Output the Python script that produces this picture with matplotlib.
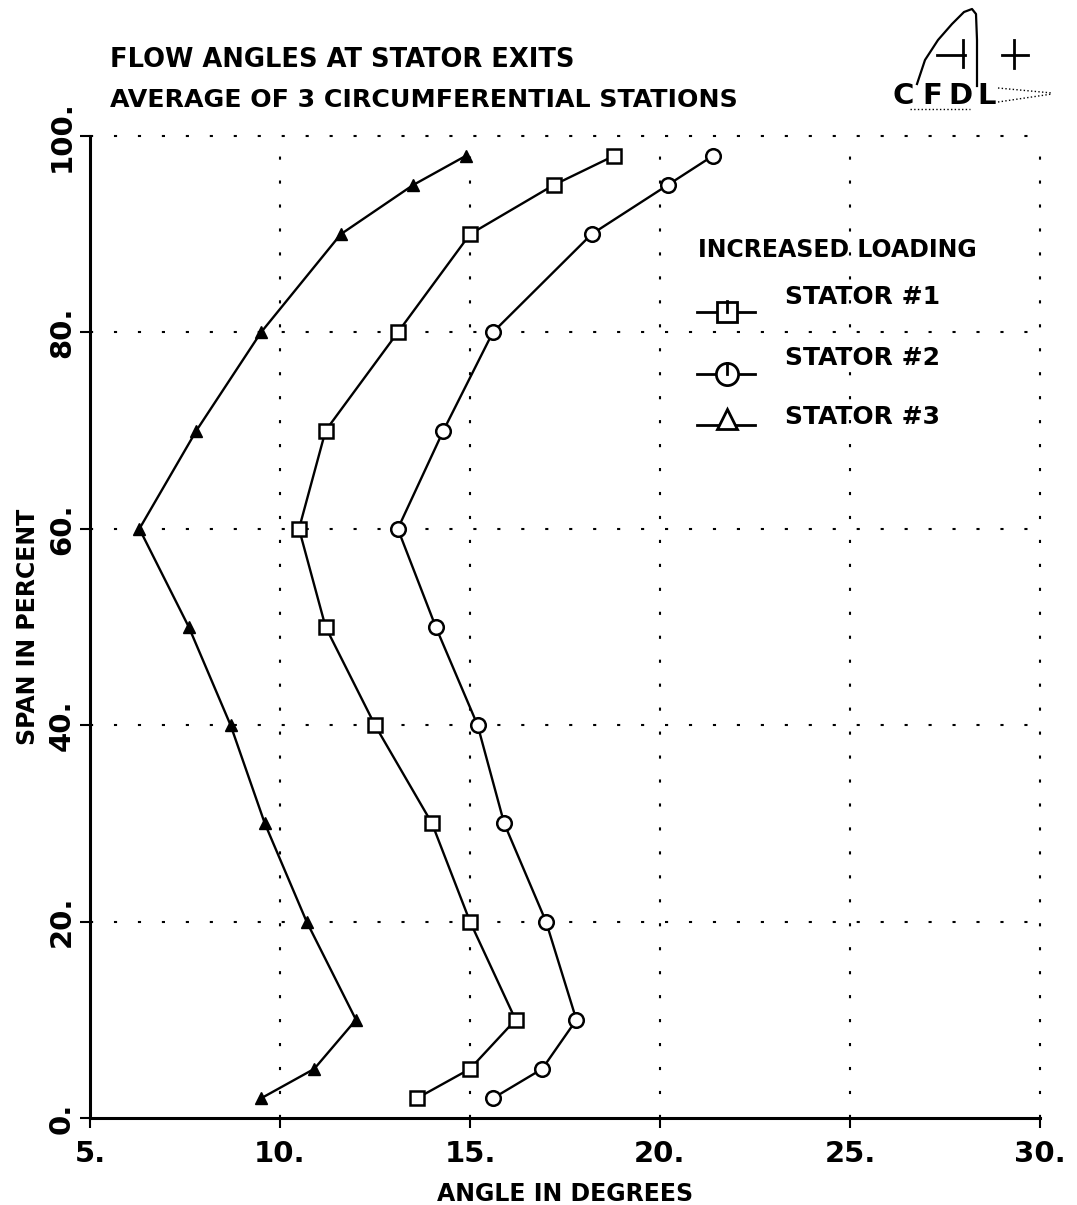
import matplotlib
matplotlib.use("Agg")
import matplotlib.pyplot as plt

plt.rcParams['font.family'] = ['DejaVu Sans']
plt.rcParams['font.weight'] = 'bold'
plt.rcParams['axes.labelweight'] = 'bold'

# span stations (percent) shared by all three stators
span = [2, 5, 10, 20, 30, 40, 50, 60, 70, 80, 90, 95, 98]

# exit flow angles in degrees
stator1 = [13.6, 15.0, 16.2, 15.0, 14.0, 12.5, 11.2, 10.5, 11.2, 13.1, 15.0, 17.2, 18.8]
stator2 = [15.6, 16.9, 17.8, 17.0, 15.9, 15.2, 14.1, 13.1, 14.3, 15.6, 18.2, 20.2, 21.4]
stator3 = [9.5, 10.9, 12.0, 10.7, 9.6, 8.7, 7.6, 6.3, 7.8, 9.5, 11.6, 13.5, 14.9]

series_names = ['STATOR #1', 'STATOR #2', 'STATOR #3']
xticks = [5, 10, 15, 20, 25, 30]
yticks = [0, 20, 40, 60, 80, 100]

W, H = 1077, 1205
fig = plt.figure(figsize=(W / 100, H / 100), dpi=100)
ax = fig.add_axes([90 / W, 1 - 1118 / H, 950 / W, 982 / H])

ax.plot(stator1, span, color='black', lw=1.7, marker='s', ms=9.5,
        mfc='white', mec='black', mew=1.8, zorder=3)
ax.plot(stator2, span, color='black', lw=1.7, marker='o', ms=10.5,
        mfc='white', mec='black', mew=1.8, zorder=3)
ax.plot(stator3, span, color='black', lw=1.7, marker='^', ms=9,
        mfc='black', mec='black', mew=1.0, zorder=3)

ax.set_xlim(5, 30)
ax.set_ylim(0, 100)
ax.set_xticks(xticks)
ax.set_yticks(yticks)
ax.set_xticklabels([f'{v}.' for v in xticks], fontsize=21)
ax.set_yticklabels([f'{v}.' for v in yticks], fontsize=21, rotation=90,
                   va='center')
ax.tick_params(direction='out', length=7, width=1.5)
ax.tick_params(axis='x', pad=9)
ax.tick_params(axis='y', pad=3)

for s in ['top', 'right']:
    ax.spines[s].set_visible(False)
for s in ['left', 'bottom']:
    ax.spines[s].set_linewidth(2.2)

# dotted grid, including the lines at the top and right limits
dots = (0, (1.5, 10))
for x in xticks[1:]:
    ax.plot([x, x], [0, 100], color='black', lw=1.5, ls=dots,
            clip_on=False, zorder=0)
for y in yticks[1:]:
    ax.plot([5, 30], [y, y], color='black', lw=1.5, ls=dots,
            clip_on=False, zorder=0)

ax.set_xlabel('ANGLE IN DEGREES', fontsize=17, labelpad=10)
ax.set_ylabel('SPAN IN PERCENT', fontsize=17, labelpad=6)

fig.text(110 / W, 1 - 60 / H, 'FLOW ANGLES AT STATOR EXITS', fontsize=18.5,
         va='center', ha='left')
fig.text(110 / W, 1 - 100 / H, 'AVERAGE OF 3 CIRCUMFERENTIAL STATIONS',
         fontsize=18.2, va='center', ha='left')

# legend block
ax.text(21.0, 88.4, 'INCREASED LOADING', fontsize=17, va='center', ha='left')
leg_marks = [('s', 15, 1.06), ('o', 16, 1.13), ('^', 14, 0)]
leg_y = [82.1, 75.8, 70.6]
txt_y = [83.6, 77.4, 71.4]
for (m, ms, stub), ly, ty, name in zip(leg_marks, leg_y, txt_y, series_names):
    mark_y = ly + (0.6 if m == '^' else 0)
    ax.plot([20.97, 22.5], [ly, ly], color='black', lw=2, clip_on=False)
    ax.plot([21.76], [mark_y], marker=m, ms=ms, mfc='white', mec='black',
            mew=2, ls='none', clip_on=False)
    if stub:
        ax.plot([21.76, 21.76], [ly, ly + stub], color='black', lw=2)
    ax.text(23.29, ty, name, fontsize=18, va='center', ha='left')

# CFDL logo in the upper right corner
lg = fig.add_axes([860 / W, 1 - 115 / H, 217 / W, 115 / H])
lg.set_xlim(860, 1077)
lg.set_ylim(115, 0)
lg.axis('off')
lg.plot([917, 925, 938, 952, 964, 972, 976, 977, 977],
        [84, 60, 40, 24, 12, 9, 14, 40, 86], color='black', lw=1.6)
lg.plot([937, 965], [55, 55], color='black', lw=2)
lg.plot([963, 963], [40, 67], color='black', lw=2)
lg.plot([1002, 1028], [55, 55], color='black', lw=2)
lg.plot([1014, 1014], [40, 68], color='black', lw=2)
for ch, cx in zip('CFDL', [903, 932, 960, 987]):
    lg.text(cx, 96, ch, fontsize=21, fontweight='heavy', va='center',
            ha='center')
lg.plot([998, 1052], [88, 93], color='black', lw=1.0, ls=':')
lg.plot([998, 1052], [102, 94], color='black', lw=1.0, ls=':')
lg.plot([910, 970], [109, 109], color='black', lw=1.0, ls=':')

fig.savefig('out.png', dpi=100)
